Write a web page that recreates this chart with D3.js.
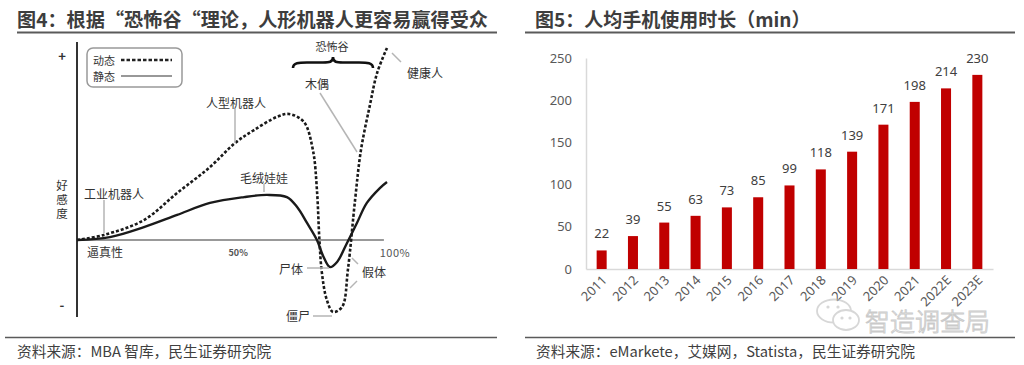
<!DOCTYPE html>
<html><head><meta charset="utf-8">
<script src="https://cdn.jsdelivr.net/npm/d3@7"></script>
<style>
html,body{margin:0;padding:0;background:#fff;}
svg{display:block;}
</style></head>
<body>
<svg id="chart" width="1024" height="365"></svg>
<script>
// ---------- Data ----------
// Left: uncanny valley conceptual curves (x = realism %, y = affinity)
const dynRealism = [0, 8.7, 21.6, 32.3, 42.9, 51, 57.1, 64.5, 68.4, 73.2, 76.1, 77.4, 78.2, 79, 80.6, 82.6, 85.5, 87.4, 89.7, 91.6, 94.5, 96.8, 100];
const dynAffinity = [0, 2.6, 10.2, 24, 37.2, 49.5, 56.1, 62.8, 64.3, 60.2, 45.9, 25.5, 0, -16.8, -30.6, -36.7, -34.2, -15, 20.4, 45.9, 68.9, 85.2, 98];
const staRealism = [0, 10.6, 21.6, 32.3, 42.9, 53.9, 61.3, 67.7, 71, 74.2, 77.4, 79.4, 81.6, 83.9, 87.1, 90.3, 93.5, 97.7, 100];
const staAffinity = [0, 1.5, 6.6, 12.8, 18.9, 21.9, 23, 21.9, 16.8, 8.7, 0, -8.2, -13.8, -11.2, -1.5, 8.7, 18.9, 26.5, 29.6];

// Right: average daily phone use (min)
const years = ["2011","2012","2013","2014","2015","2016","2017","2018","2019","2020","2021","2022E","2023E"];
const minutes = [22, 39, 55, 63, 73, 85, 99, 118, 139, 171, 198, 214, 230];
const yTicks = [0, 50, 100, 150, 200, 250];

const titleLeft = "图4：根据“恐怖谷“理论，人形机器人更容易赢得受众";
const titleRight = "图5：人均手机使用时长（min）";
const sourceLeft = "资料来源：MBA 智库，民生证券研究院";
const sourceRight = "资料来源：eMarkete，艾媒网，Statista，民生证券研究院";

// ---------- Drawing ----------
const svg = d3.select("#chart");
svg.append("rect").attr("width",1024).attr("height",365).attr("fill","#fff");
const CJK = "'Noto Sans CJK SC','Noto Sans',sans-serif";

// Titles & underlines
function header(x, text, size, lx1, lx2, len){
  const t = svg.append("text").attr("x",x).attr("y",27).text(text)
    .attr("font-family",CJK).attr("font-size",size).attr("font-weight","bold").attr("fill","#3d3d3d");
  if (len) t.attr("textLength",len).attr("lengthAdjust","spacingAndGlyphs");
  svg.append("line").attr("x1",lx1).attr("x2",lx2).attr("y1",32.5).attr("y2",32.5)
    .attr("stroke","#5a5a5a").attr("stroke-width",2);
}
header(17, titleLeft, 19, 17, 497, 471);
header(535, titleRight, 19, 525, 1015, null);

// Footers
function footer(x, text, lx1, lx2){
  svg.append("line").attr("x1",lx1).attr("x2",lx2).attr("y1",337.5).attr("y2",337.5)
    .attr("stroke","#5a5a5a").attr("stroke-width",1.5);
  svg.append("text").attr("x",x).attr("y",357).text(text)
    .attr("font-family",CJK).attr("font-size",14.7).attr("fill","#404040");
}
footer(17, sourceLeft, 5, 497);
footer(536, sourceRight, 525, 1015);

// ---------- Left chart ----------
const L = svg.append("g");
const xL = d3.scaleLinear().domain([0,100]).range([77,387]);
const yL = d3.scaleLinear().domain([0,100]).range([240,44]);

// axes
L.append("line").attr("x1",77).attr("x2",77).attr("y1",42).attr("y2",317)
  .attr("stroke","#333").attr("stroke-width",2);
L.append("line").attr("x1",77).attr("x2",xL(99)).attr("y1",yL(0)).attr("y2",yL(0))
  .attr("stroke","#777").attr("stroke-width",1.3);

const smallTxt = (x,y,t,opt={}) => L.append("text").attr("x",x).attr("y",y).text(t)
  .attr("font-family",CJK).attr("font-size",opt.size||12).attr("fill",opt.fill||"#333")
  .attr("text-anchor",opt.anchor||"start").attr("dominant-baseline","central")
  .attr("font-weight",opt.weight||"normal");

smallTxt(62,55,"+",{anchor:"middle",size:13,weight:"bold"});
smallTxt(62,304,"-",{anchor:"middle",size:13,weight:"bold"});
["好","感","度"].forEach((c,i)=>smallTxt(62,185+i*14,c,{anchor:"middle",size:11.5}));
smallTxt(87,251,"逼真性");
smallTxt(xL(52),252,"50%",{anchor:"middle",size:9,fill:"#555",weight:"bold"});
smallTxt(395,252,"100%",{anchor:"middle",size:11,fill:"#555"}).attr("letter-spacing",0.5);

// legend
L.append("rect").attr("x",87).attr("y",48).attr("width",95).attr("height",39).attr("rx",6)
  .attr("fill","none").attr("stroke","#999").attr("stroke-width",1.5);
smallTxt(93,60,"动态",{size:11});
smallTxt(93,76,"静态",{size:11});
L.append("line").attr("x1",121).attr("x2",172).attr("y1",60).attr("y2",60)
  .attr("stroke","#222").attr("stroke-width",2.3).attr("stroke-dasharray","3.5,2");
L.append("line").attr("x1",121).attr("x2",172).attr("y1",76).attr("y2",76)
  .attr("stroke","#333").attr("stroke-width",1.2);

// curves
const lineGen = d3.line().x(d=>xL(d[0])).y(d=>yL(d[1])).curve(d3.curveCatmullRom.alpha(0.5));
L.append("path").datum(staRealism.map((v,i)=>[v,staAffinity[i]]))
  .attr("d",lineGen).attr("fill","none").attr("stroke","#1a1a1a").attr("stroke-width",2.4);
L.append("path").datum(dynRealism.map((v,i)=>[v,dynAffinity[i]]))
  .attr("d",lineGen).attr("fill","none").attr("stroke","#1a1a1a").attr("stroke-width",2.6)
  .attr("stroke-dasharray","3,2");

// annotation pointers
const ptr = (x1,y1,x2,y2) => L.append("line").attr("x1",x1).attr("y1",y1).attr("x2",x2).attr("y2",y2)
  .attr("stroke","#b5b5b5").attr("stroke-width",1.5);
smallTxt(236,102,"人型机器人",{anchor:"middle"});  ptr(235,109,235,143);
smallTxt(114,193,"工业机器人",{anchor:"middle"});  ptr(104,200,104,233);
smallTxt(264,177,"毛绒娃娃",{anchor:"middle"});    ptr(264,184,264,192);
smallTxt(332,46,"恐怖谷",{anchor:"middle",size:11});
smallTxt(317,83,"木偶",{anchor:"middle"});         ptr(320,93,357,152);
smallTxt(425,72,"健康人",{anchor:"middle"});       ptr(392,53,401,62);
smallTxt(291,268,"尸体",{anchor:"middle"});        ptr(307,268,329,268);
smallTxt(374,271,"假体",{anchor:"middle"});        ptr(352,258,358,264); ptr(350,288,357,281);
smallTxt(298,315,"僵尸",{anchor:"middle"});        ptr(313,316,332,316);

// brace
function bracePath(x1,x2,y,h){
  const m=(x1+x2)/2, q=h/2;
  return `M${x1},${y} C${x1},${y-q} ${x1+6},${y-q} ${x1+14},${y-q} L${m-10},${y-q} C${m-4},${y-q} ${m},${y-q} ${m},${y-h}`+
         ` C${m},${y-q} ${m+4},${y-q} ${m+10},${y-q} L${x2-14},${y-q} C${x2-6},${y-q} ${x2},${y-q} ${x2},${y}`;
}
L.append("path").attr("d",bracePath(293,373,68,11)).attr("fill","none")
  .attr("stroke","#111").attr("stroke-width",2.6);

// ---------- Right chart ----------
const R = svg.append("g");
const xR = d3.scaleBand().domain(years).range([586,993]).paddingInner(0.68).paddingOuter(0.34);
const yR = d3.scaleLinear().domain([0,250]).range([269,58]);

const yAxis = d3.axisLeft(yR).tickValues(yTicks).tickSize(0).tickSizeOuter(0).tickPadding(14);
const gy = R.append("g").attr("transform","translate(586,0)").call(yAxis);
gy.select(".domain").attr("stroke","#d9d9d9").attr("stroke-width",1.5);
gy.selectAll("text").attr("font-family","'Noto Sans',sans-serif").attr("font-size",13).attr("fill","#595959");

const xAxis = d3.axisBottom(xR).tickSize(0).tickSizeOuter(0);
const gx = R.append("g").attr("transform","translate(0,269)").call(xAxis);
gx.select(".domain").attr("stroke","#d9d9d9").attr("stroke-width",1.5);
gx.selectAll("text").attr("font-family","'Noto Sans',sans-serif").attr("font-size",13).attr("fill","#595959")
  .attr("text-anchor","end").attr("y",0).attr("dy",0)
  .attr("transform","translate(6,12) rotate(-45)");

R.selectAll("rect.bar").data(minutes).enter().append("rect").attr("class","bar")
  .attr("x",(d,i)=>xR(years[i])).attr("width",xR.bandwidth())
  .attr("y",d=>yR(d)).attr("height",d=>yR(0)-yR(d)).attr("fill","#C00000");

R.selectAll("text.val").data(minutes).enter().append("text").attr("class","val")
  .attr("x",(d,i)=>xR(years[i])+xR.bandwidth()/2).attr("y",d=>yR(d)-12)
  .attr("text-anchor","middle").attr("font-family","'Noto Sans',sans-serif").attr("font-size",13)
  .attr("fill","#404040").text(d=>d);

// watermark
const W = svg.append("g").attr("opacity",0.6);
W.append("ellipse").attr("cx",834).attr("cy",311).attr("rx",17).attr("ry",11.5)
  .attr("fill","#fff").attr("stroke","#bdbdbd").attr("stroke-width",1.8);
W.append("ellipse").attr("cx",846).attr("cy",320).attr("rx",13).attr("ry",10)
  .attr("fill","#fff").attr("stroke","#bdbdbd").attr("stroke-width",1.8);
[[828,307],[838,307],[842,318],[850,318]].forEach(p=>W.append("circle").attr("cx",p[0]).attr("cy",p[1]).attr("r",1.6).attr("fill","#bdbdbd"));
W.append("text").attr("x",865).attr("y",331).text("智造调查局")
  .attr("font-family",CJK).attr("font-size",25).attr("font-weight",300)
  .attr("fill","#ffffff").attr("stroke","#a8a8a8").attr("stroke-width",0.9);
</script>
</body></html>
